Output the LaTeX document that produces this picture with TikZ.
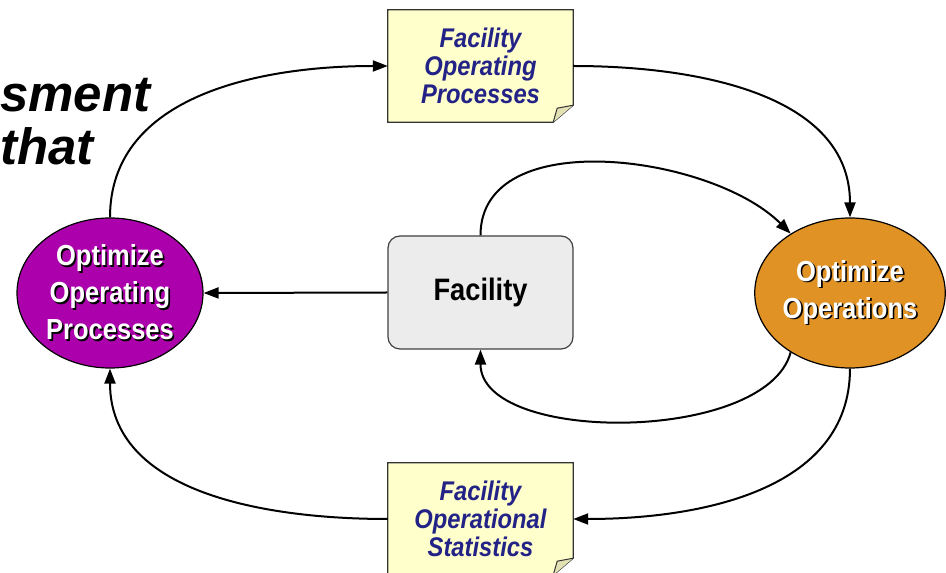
\documentclass[tikz,border=0pt]{standalone}
\usepackage{fontspec}
\setmainfont{Liberation Sans}
\newfontfamily\nar[FakeStretch=0.88]{Liberation Sans}
\usetikzlibrary{shapes.geometric,arrows.meta,calc,backgrounds}
\definecolor{purp}{RGB}{172,0,172}
\definecolor{orng}{RGB}{224,146,36}
\definecolor{docy}{RGB}{255,255,204}
\definecolor{docfold}{RGB}{225,225,180}
\definecolor{navy}{RGB}{35,35,135}
\definecolor{facg}{RGB}{236,236,236}
\newcommand\shd[1]{\makebox[0pt][l]{\hspace{1.6pt}\raisebox{-1.6pt}{\color{black}#1}}#1}
\begin{document}
\begin{tikzpicture}[x=1pt,y=1pt,
  conn/.style={line width=2pt, -{Triangle[length=15pt,width=11pt]}},
  oval/.style={ellipse, draw=black, line width=1.2pt, minimum width=186pt, minimum height=150pt,
    inner sep=0pt, text=white, font=\nar\bfseries\fontsize{29}{37}\selectfont, align=center},
  docbox/.style={rectangle, minimum width=185pt, minimum height=112pt, inner sep=0pt,
    text=navy, font=\nar\bfseries\itshape\fontsize{27}{28}\selectfont, align=center},
  facbox/.style={rectangle, rounded corners=12pt, draw=black!75, line width=1.2pt, fill=facg,
    minimum width=185pt, minimum height=113pt, inner sep=0pt,
    font=\nar\bfseries\fontsize{31}{36}\selectfont},
  bigtxt/.style={inner sep=0pt, anchor=base west, font=\bfseries\itshape\fontsize{51}{53}\selectfont}
]
\useasboundingbox (0,0) rectangle (946,573);
\clip (0,0) rectangle (946,573);

\node[bigtxt] (t1) at (0,461) {sment};
\node[bigtxt] (t2) at (0,408) {that};

\node[docbox] (T) at (480.5,507) {Facility\\Operating\\Processes};
\node[docbox] (B) at (480.5,54) {Facility\\Operational\\Statistics};
\node[facbox] (F) at (480.5,280.5) {Facility};
\node[oval, fill=purp] (L) at (110,280) {\shd{Optimize}\\\shd{Operating}\\\shd{Processes}};
\node[oval, fill=orng] (R) at (850,280) {\shd{Optimize}\\\shd{Operations}};

\begin{pgfonlayer}{background}
\foreach \n in {T,B} {
  \filldraw[fill=docy, draw=black!80, line width=1.2pt]
    (\n.north west) -- (\n.north east) -- ($(\n.south east)+(0,17)$)
    -- ($(\n.south east)+(-20,0)$) -- (\n.south west) -- cycle;
  \filldraw[fill=docfold, draw=black!80, line width=1pt]
    ($(\n.south east)+(-20,0)$) -- ($(\n.south east)+(-16,14)$) -- ($(\n.south east)+(0,17)$);
}
\end{pgfonlayer}

\draw[conn] (L.north) to[out=90,in=180] (T.west);
\draw[conn] (T.east) to[out=0,in=90] (R.north);
\draw[conn] (F.north) to[out=90,in=135,looseness=0.92] (R.135);
\draw[conn] (R.225) to[out=-105,in=-90,looseness=0.78] (F.south);
\draw[conn] (F.west) -- (L.east);
\draw[conn] (R.south) to[out=-90,in=0] (B.east);
\draw[conn] (B.west) to[out=180,in=-90] (L.south);
\end{tikzpicture}
\end{document}
